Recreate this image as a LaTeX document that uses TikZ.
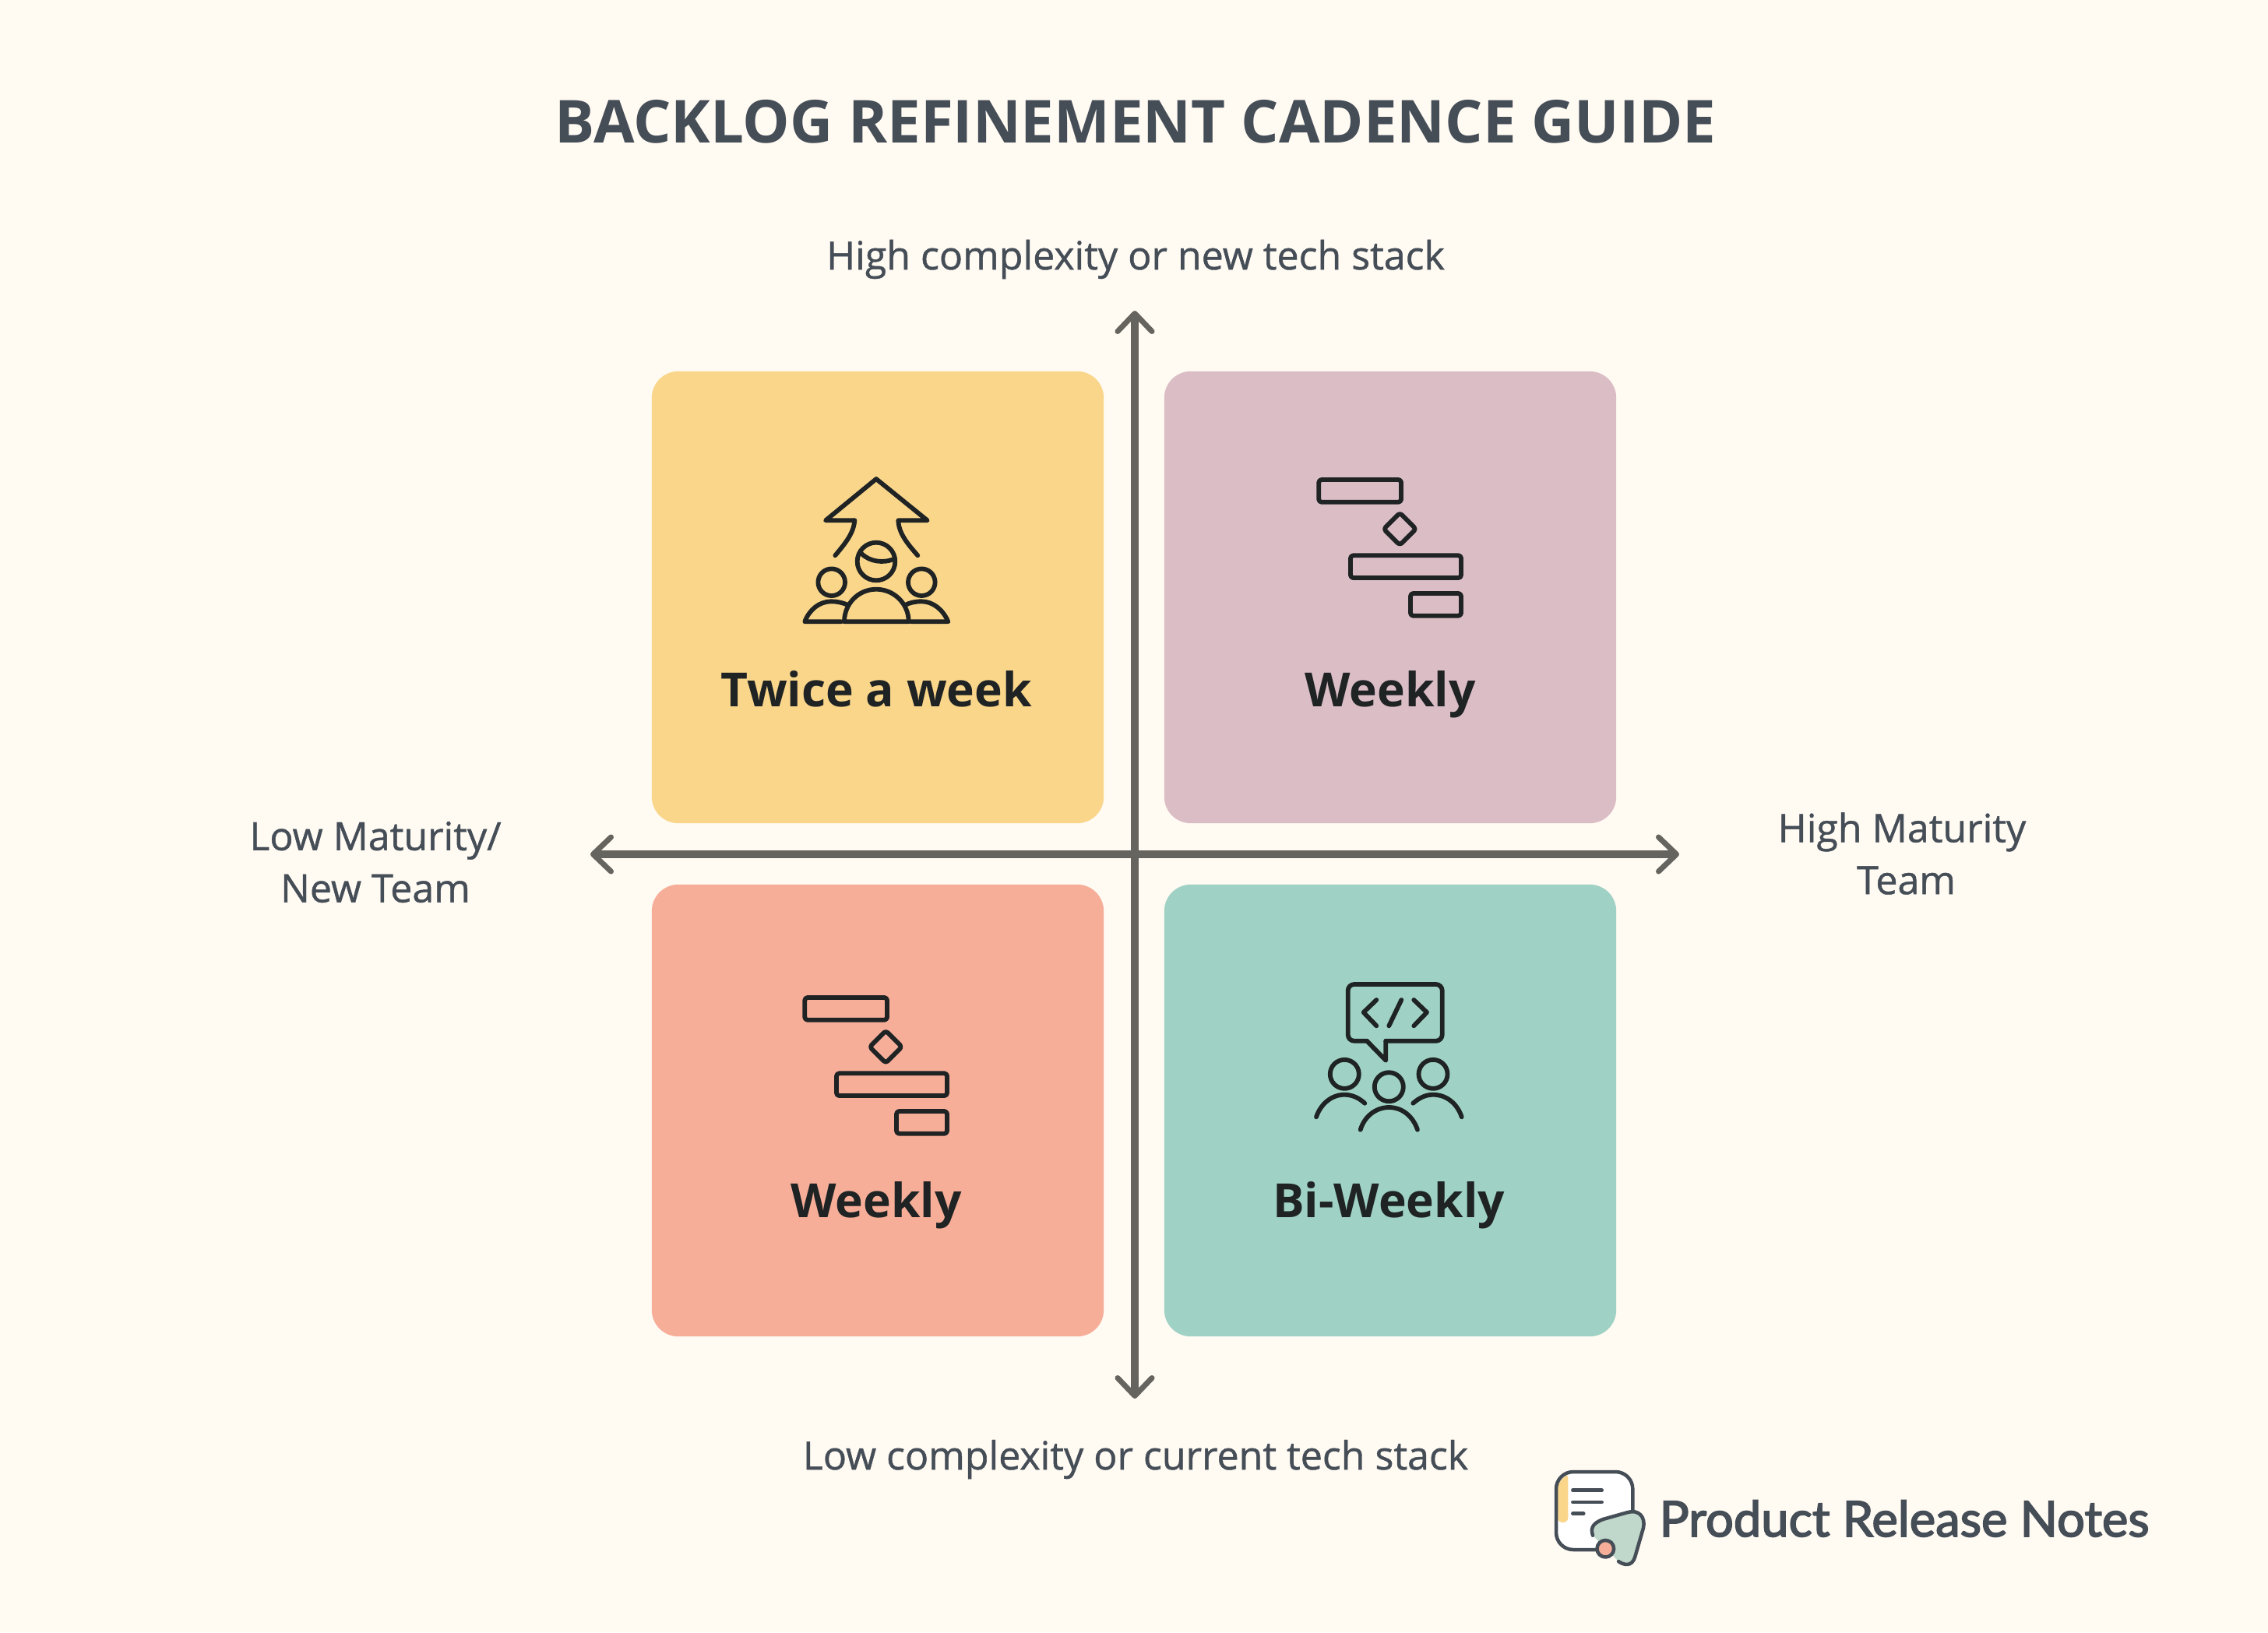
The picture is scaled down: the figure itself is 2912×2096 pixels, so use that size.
\documentclass[tikz,border=0pt]{standalone}
\usepackage{fontspec}
\setmainfont{Open Sans}
\newfontfamily\labelfont[FakeBold=.9]{Open Sans}
\newfontfamily\logofont[FakeBold=2.6]{Lato}
\usetikzlibrary{arrows.meta,positioning}
\definecolor{guidepaper}{HTML}{FFFAF2}
\definecolor{guideink}{HTML}{454D57}
\definecolor{guideblack}{HTML}{1F2324}
\definecolor{guideaxis}{HTML}{66645E}
\definecolor{guideyellow}{HTML}{FAD68B}
\definecolor{guidemauve}{HTML}{DBBDC6}
\definecolor{guidesalmon}{HTML}{F6AE99}
\definecolor{guideteal}{HTML}{9FD2C5}
\definecolor{guidesage}{HTML}{C0D8CB}
\tikzset{
  card/.style={rounded corners=3.4mm,minimum width=58mm,minimum height=58mm,inner sep=0pt},
  cardlabel/.style={font=\fontsize{17.2}{20}\selectfont\bfseries,text=guideblack,inner sep=0pt,anchor=base},
  axislabel/.style={font=\fontsize{14.25}{19}\selectfont\labelfont,text=guideink,inner sep=0pt,align=center},
  axisline/.style={guideaxis,line width=1mm,{Straight Barb[round,length=2.3mm,width=4.4mm,line width=.7mm]}-{Straight Barb[round,length=2.3mm,width=4.4mm,line width=.7mm]}},
  glyph/.style={guideblack,line width=.58mm,line cap=round,line join=round},
  logoline/.style={guideink,line width=.45mm,line cap=round,line join=round}
}
\begin{document}
\begin{tikzpicture}[x=.01cm,y=-.01cm]
    \path[use as bounding box,fill=guidepaper] (0,0) rectangle (2912,2096);

    \node[font=\fontsize{21.65}{25}\selectfont\bfseries,text=guideink,inner sep=0pt] (title) at (1458,156)
      {BACKLOG REFINEMENT CADENCE GUIDE};

    % The four quadrants.
    \node[card,fill=guideyellow] (cardtwice) at (1127,767) {};
    \node[card,fill=guidemauve] (cardweekly) at (1785,767) {};
    \node[card,fill=guidesalmon] (cardlow) at (1127,1426) {};
    \node[card,fill=guideteal] (cardbi) at (1785,1426) {};

    \node[cardlabel] (twicelabel) at (1125,907) {Twice a week};
    \node[cardlabel] (weeklylabel) at (1785,907) {Weekly};
    \node[cardlabel] (lowlabel) at (1125,1563) {Weekly};
    \node[cardlabel] (bilabel) at (1783,1563) {Bi-Weekly};

    % Axes run between free end points.
    \coordinate (axistop) at (1457,399);
    \coordinate (axisbottom) at (1457,1796);
    \coordinate (axisleft) at (758,1097);
    \coordinate (axisright) at (2156,1097);
    \draw[axisline] (axisbottom) -- (axistop);
    \draw[axisline] (axisleft) -- (axisright);

    \node[axislabel] (toplabel) at (1458,333) {High complexity or new tech stack};
    \node[axislabel] (bottomlabel) at (1458,1874) {Low complexity or current tech stack};
    \node[axislabel] (leftlabel) at (482,1107) {Low Maturity/\\New Team};
    \node[axislabel] (rightlabel) at (2442,1096) {High Maturity\\\hspace{.11cm}Team};

    % Arrow over three people.
    \draw[glyph] (1097.3,668.3) -- (1060,668.3) -- (1125,615) -- (1190.7,668.3) -- (1153.3,668.3)
      .. controls (1154,685) and (1165,698) .. (1178.3,713.3);
    \draw[glyph] (1097.3,668.3) .. controls (1096,685) and (1085,698) .. (1072.3,713.3);
    \draw[glyph] (1125,721) circle (2.43mm);
    \draw[glyph] (1106,710.7) .. controls (1117,722) and (1135,723) .. (1146.7,718.3);
    \draw[glyph] (1067.7,747.7) circle (1.73mm);
    \draw[glyph] (1183.3,747.7) circle (1.73mm);
    \draw[glyph] (1084,798.3) .. controls (1084,775.4) and (1102,756.7) .. (1125,756.7)
      .. controls (1148,756.7) and (1166.7,775.4) .. (1166.7,798.3) -- cycle;
    \draw[glyph] (1080,798.3) -- (1033.3,798.3) .. controls (1039,783) and (1052,772.3) .. (1067.3,772.3)
      .. controls (1075,772.3) and (1082,774) .. (1088.3,776.7);
    \draw[glyph] (1170,798.3) -- (1217.3,798.3) .. controls (1211,783) and (1198,772.3) .. (1183,772.3)
      .. controls (1175,772.3) and (1168,774) .. (1162.7,776.7);

    % Gantt bars, once in each Weekly card.
    \foreach \dx/\dy in {0/0,-660/665} {
      \begin{scope}[shift={(\dx,\dy)}]
        \draw[glyph,rounded corners=.35mm] (1693.3,616) rectangle (1799,644.7);
        \draw[glyph,rounded corners=.35mm] (1734,713.3) rectangle (1876,742);
        \draw[glyph,rounded corners=.35mm] (1811,762) rectangle (1876,790.7);
        \draw[glyph,rounded corners=.35mm] (1797.3,658.6) -- (1818,679.3) -- (1797.3,700) -- (1776.6,679.3) -- cycle;
      \end{scope}
    }

    % Speech bubble with code over three people.
    \draw[glyph,rounded corners=.8mm] (1779.3,1336.7) -- (1851.7,1336.7) -- (1851.7,1264) -- (1730.7,1264) -- (1730.7,1336.7) -- (1755,1336.7);
    \draw[glyph] (1755,1336.7) -- (1779.3,1361.7) -- (1779.3,1336.7);
    \draw[glyph] (1767.3,1284) -- (1750.7,1300) -- (1767.3,1317.3);
    \draw[glyph] (1799.3,1284) -- (1783.3,1317.3);
    \draw[glyph] (1815.3,1284) -- (1832,1300) -- (1815.3,1317.3);
    \foreach \x/\y in {1726.3/1379.3,1840/1379.3,1783.3/1395.7}
      \draw[glyph] (\x,\y) circle (1.85mm);
    \draw[glyph] (1690,1434.3) .. controls (1696,1417) and (1710,1405.7) .. (1726.3,1405.7)
      .. controls (1736,1405.7) and (1745,1410) .. (1752.3,1416.7);
    \draw[glyph] (1876.7,1434.3) .. controls (1871,1417) and (1857,1405.7) .. (1840,1405.7)
      .. controls (1830,1405.7) and (1822,1410) .. (1814.3,1416.7);
    \draw[glyph] (1746.7,1450.7) .. controls (1752,1433) and (1767,1422) .. (1783.3,1422)
      .. controls (1800,1422) and (1814,1433) .. (1820,1450.7);

    % Logo and wordmark.
    \fill[white,rounded corners=2.2mm] (1998,1890) rectangle (2096.3,1990);
    \fill[guideyellow,rounded corners=.6mm] (2000,1955) -- (2013.3,1955) -- (2013.3,1892) -- (2000,1905) -- cycle;
    \draw[logoline,rounded corners=2.2mm] (1998,1890) rectangle (2096.3,1990);
    \draw[logoline] (2019.3,1913.7) -- (2056.7,1913.7);
    \draw[logoline] (2019.3,1929) -- (2056.7,1929);
    \draw[logoline] (2019.3,1943.7) -- (2033.3,1943.7);
    \fill[guidesage] (2045,1971.7) .. controls (2041,1960) and (2048,1955) .. (2058,1951) -- (2090,1942)
      .. controls (2104,1938) and (2113,1948) .. (2110,1962) -- (2099,2000)
      .. controls (2095,2012) and (2085,2010) .. (2078,2005) -- cycle;
    \draw[logoline] (2045,1971.7) .. controls (2041,1960) and (2048,1955) .. (2058,1951) -- (2090,1942)
      .. controls (2104,1938) and (2113,1948) .. (2110,1962) -- (2099,2000)
      .. controls (2095,2012) and (2085,2010) .. (2078,2005);
    \draw[logoline,fill=guidesalmon] (2061.3,1988.7) circle (1.08mm);
    \node[anchor=west,font=\fontsize{18}{20}\selectfont\logofont,text=guideink,inner sep=0pt] (wordmark) at (2130,1950)
      {Product Release Notes};
\end{tikzpicture}
\end{document}
